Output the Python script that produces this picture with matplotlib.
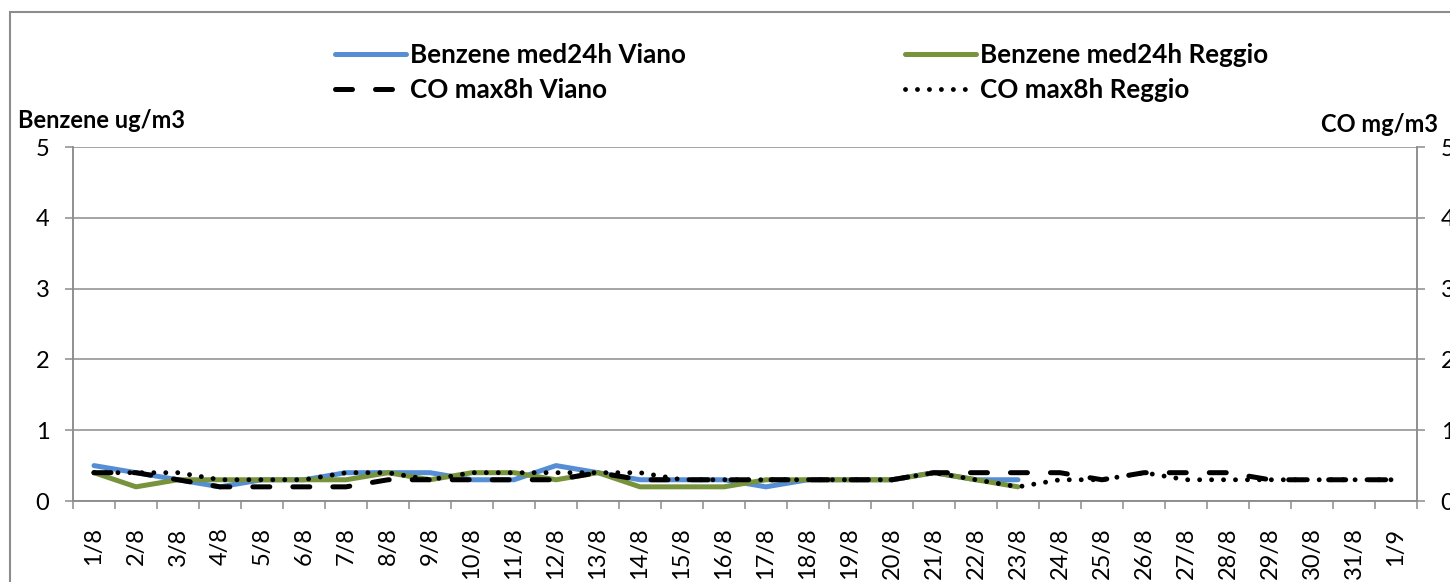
import matplotlib
matplotlib.use("Agg")
import matplotlib.pyplot as plt
from matplotlib.patches import Rectangle

plt.rcParams["font.family"] = ["Lato", "DejaVu Sans"]

# Data (August days + 1/9)
days = ["1/8", "2/8", "3/8", "4/8", "5/8", "6/8", "7/8", "8/8", "9/8", "10/8",
        "11/8", "12/8", "13/8", "14/8", "15/8", "16/8", "17/8", "18/8", "19/8",
        "20/8", "21/8", "22/8", "23/8", "24/8", "25/8", "26/8", "27/8", "28/8",
        "29/8", "30/8", "31/8", "1/9"]

benzene_viano = [0.5, 0.4, 0.3, 0.2, 0.3, 0.3, 0.4, 0.4, 0.4, 0.3, 0.3, 0.5,
                 0.4, 0.3, 0.3, 0.3, 0.2, 0.3, 0.3, 0.3, 0.4, 0.3, 0.3]
benzene_reggio = [0.4, 0.2, 0.3, 0.3, 0.3, 0.3, 0.3, 0.4, 0.3, 0.4, 0.4, 0.3,
                  0.4, 0.2, 0.2, 0.2, 0.3, 0.3, 0.3, 0.3, 0.4, 0.3, 0.2]
co_viano = [0.4, 0.4, 0.3, 0.2, 0.2, 0.2, 0.2, 0.3, 0.3, 0.3, 0.3, 0.3, 0.4,
            0.3, 0.3, 0.3, 0.3, 0.3, 0.3, 0.3, 0.4, 0.4, 0.4, 0.4, 0.3, 0.4,
            0.4, 0.4, 0.3, 0.3, 0.3, 0.3]
co_reggio = [0.4, 0.4, 0.4, 0.3, 0.3, 0.3, 0.4, 0.4, 0.3, 0.4, 0.4, 0.4, 0.4,
             0.4, 0.3, 0.3, 0.3, 0.3, 0.3, 0.3, 0.4, 0.3, 0.2, 0.3, 0.3, 0.4,
             0.3, 0.3, 0.3, 0.3, 0.3, 0.3]

yticks = [0, 1, 2, 3, 4, 5]

grey = "#8c8c8c"
fig = plt.figure(figsize=(14.5, 5.82), dpi=100)
ax = fig.add_axes([73 / 1450, 1 - 501 / 582, (1417 - 73) / 1450, (501 - 147) / 582])
ax2 = ax.twinx()

x_ben = list(range(len(benzene_viano)))
x_co = list(range(len(co_viano)))

l1, = ax.plot(x_ben, benzene_viano, color="#558ed5", lw=3.6, solid_capstyle="round",
              label="Benzene med24h Viano")
l2, = ax.plot(x_ben, benzene_reggio, color="#77933c", lw=3.6, solid_capstyle="round",
              label="Benzene med24h Reggio")
l3, = ax2.plot(x_co, co_viano, color="black", lw=3.6, dashes=(3.4, 4.6),
               dash_capstyle="round", label="CO max8h Viano")
l4, = ax2.plot(x_co, co_reggio, color="black", lw=3.5, dashes=(0.01, 2.45),
               dash_capstyle="round", label="CO max8h Reggio")

# axes styling
for a in (ax, ax2):
    a.set_xlim(-0.5, len(days) - 0.5)
    a.set_ylim(0, 5)
    a.set_yticks(yticks)
    for s in a.spines.values():
        s.set_color(grey)
        s.set_linewidth(1.1)
    a.spines["top"].set_visible(False)

ax.set_yticklabels([str(v) for v in yticks], fontsize=17)
ax2.set_yticklabels([str(v) for v in yticks], fontsize=17)
ax.tick_params(axis="y", length=6, width=1.1, color=grey, pad=11)
ax2.tick_params(axis="y", length=6, width=1.1, color=grey, pad=11)
ax.yaxis.grid(True, color=grey, lw=1.1)
ax.set_axisbelow(True)

ax.set_xticks(range(len(days)))
ax.set_xticklabels(days, rotation=90, fontsize=17)
ax.set_xticks([i - 0.5 for i in range(len(days) + 1)], minor=True)
ax.tick_params(axis="x", which="major", length=0, pad=19)
ax.tick_params(axis="x", which="minor", length=6, width=1.1, color=grey)

# axis titles
fig.text(18 / 1450, 1 - 128 / 582, "Benzene ug/m3", fontsize=17, fontweight="bold",
         ha="left", va="baseline")
fig.text(1438 / 1450, 1 - 132 / 582, "CO mg/m3", fontsize=17, fontweight="bold",
         ha="right", va="baseline")

# legend in two columns
leg_kw = dict(frameon=False, handlelength=2.75, handletextpad=0.15,
              labelspacing=0.4, borderpad=0, borderaxespad=0, loc="center left",
              prop={"weight": "bold", "size": 18.7})
fig.legend(handles=[l1, l3], bbox_to_anchor=(335 / 1450, 1 - 72.5 / 582), **leg_kw)
fig.legend(handles=[l2, l4], bbox_to_anchor=(905 / 1450, 1 - 72.5 / 582), **leg_kw)

# chart area border
fig.patches.append(Rectangle((10 / 1450, -0.1), 2, 1 - 12 / 582 + 0.1, fill=False,
                             ec=grey, lw=1.5, transform=fig.transFigure))

plt.savefig("out.png", dpi=100)
